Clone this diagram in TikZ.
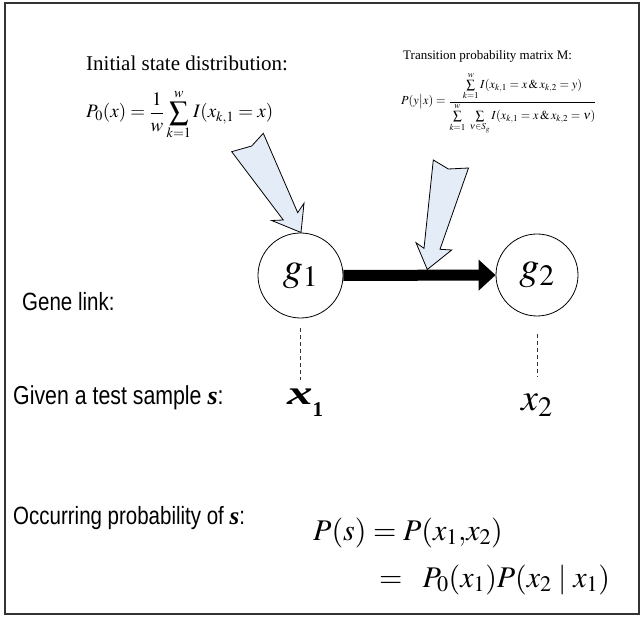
\documentclass[tikz,border=0pt]{standalone}
\usepackage{amsmath}
\usepackage{mathptmx}
\usepackage[no-math]{fontspec}
\setmainfont{Liberation Serif}
\newfontfamily\narrow[FakeStretch=0.82]{Liberation Sans}
\usepackage{tikz}
\usetikzlibrary{arrows.meta, positioning, calc}
\definecolor{wedgeblue}{RGB}{228,236,247}
\newcommand{\sv}{{\rmfamily\bfseries\itshape s}}
\newcommand{\fs}[1]{\fontsize{#1}{#1}\selectfont}
\tikzset{
  frame/.style = {draw=black!80, line width=1.3pt},
  gene/.style  = {circle, draw, line width=0.8pt, inner sep=0pt,
                  minimum size=85pt, font=\fs{40}},
  flow/.style  = {line width=11pt, -{Triangle[length=17pt, width=30pt]}},
  wedge/.style = {draw=black, fill=wedgeblue, line width=0.8pt,
                  line join=miter},
  link/.style  = {draw=black!80, line width=0.9pt, dash pattern=on 4pt off 3pt},
  lbl/.style   = {anchor=base west, inner sep=0pt, font=\narrow\fs{25}},
  eq/.style    = {anchor=base west, inner sep=0pt},
}

\begin{document}
\begin{tikzpicture}[x=1pt, y=-1pt]
  \useasboundingbox (0,0) rectangle (643,617);
  \draw[frame] (5,3) rectangle (639,614);

  % formulas on top
  \node[eq, font=\fs{21}] (init) at (86,71) {Initial state distribution:};
  \node[eq, font=\fs{19}] (p0) at (86,118)
    {$\displaystyle P_0(x) = \frac{1}{w}\sum_{k=1}^{w} I(x_{k,1} = x)$};
  \node[eq, font=\fs{13}] (trans) at (403,60) {Transition probability matrix M:};
  \node[eq, font=\fs{12.3}] (pyx) at (401,105)
    {$P(y\big|x) = \dfrac{\sum\limits_{k=1}^{w} I(x_{k,1} = x\,\&\, x_{k,2} = y)}
      {\sum\limits_{k=1}^{w}\ \sum\limits_{\nu\in S_g} I(x_{k,1} = x\,\&\, x_{k,2} = \nu)}$};

  % genes
  \node[gene] (g1) at (300.5,275.5) {$g_1$};
  \node[gene, minimum size=82pt] (g2) at (537,275) {$g_2$};
  \draw[flow] (g1) -- (g2);

  % block arrows
  \draw[wedge] (231.7,151.7) -- (251.7,146) -- (263.3,133.3) -- (297.7,212.7)
    -- (304,203.3) -- (301,232.5) -- (271.7,220.5) -- (283.3,220) -- cycle;
  \draw[wedge] (433.3,160) -- (448.3,169) -- (468.5,168) -- (440,249.3)
    -- (451.7,250) -- (427.3,269.5) -- (416,242.7) -- (424,248.3) -- cycle;

  \node[lbl] (genelink) at (22,311) {Gene link:};

  % sample values
  \node[lbl, font=\narrow\fs{26}] (given) at (13,405) {Given a test sample \sv:};
  \node[eq] (x1) at (287,405)
    {\fs{34}\bfseries\itshape\scalebox{1.5}[1]{x}\raisebox{-12pt}{\upshape\fs{21}1}};
  \node[eq, font=\fs{38}] (x2) at (521,411) {$x_2$};
  \draw[link] ([yshift=-10pt]g1.south) -- ([yshift=-62pt]g1.south);
  \draw[link] ([yshift=-18pt]g2.south) -- ([yshift=-61pt]g2.south);

  \node[lbl] (occur) at (13,525) {Occurring probability of \sv:};
  \node[eq, font=\fs{30}] (ps) at (313,540) {$P(s) = P(x_1{,}x_2)$};
  \node[eq, font=\fs{30}] (ps2) at (379,587) {$=\;\; P_0(x_1)P(x_2 \mid x_1)$};
\end{tikzpicture}
\end{document}
